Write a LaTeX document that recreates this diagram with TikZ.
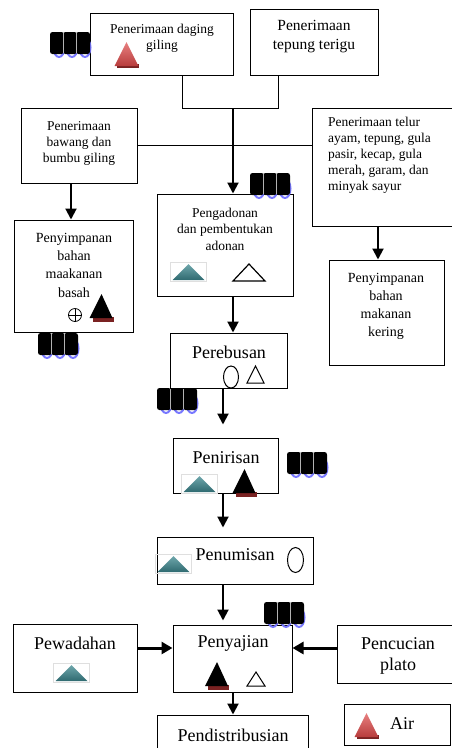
\documentclass[tikz,border=0pt]{standalone}
\usepackage{fontspec}
\setmainfont{Liberation Serif}
\usetikzlibrary{arrows.meta}
\definecolor{tealA}{HTML}{6FA7AC}
\definecolor{tealB}{HTML}{2F6A70}
\definecolor{redA}{HTML}{E88080}
\definecolor{redB}{HTML}{B83C3C}
\definecolor{darkred}{HTML}{7A2222}
\definecolor{ccpblue}{HTML}{7878FF}
\tikzset{
  box/.style={draw, line width=1pt, inner sep=0pt},
  small/.style={font=\fontsize{13.5}{16}\selectfont, align=center, inner sep=0pt},
  mid/.style={font=\fontsize{15.5}{19}\selectfont, align=center, inner sep=0pt},
  big/.style={font=\fontsize{18}{21}\selectfont, align=center, inner sep=0pt},
  link/.style={line width=1pt},
  arr/.style={line width=2pt, -{Triangle[width=11pt,length=11pt]}},
  harr/.style={line width=3pt, -{Triangle[width=12pt,length=11pt]}},
  tealtri/.pic={
    \draw[gray!25, line width=0.6pt] (-18,1) rectangle (18,-18);
    \shade[top color=tealA, bottom color=tealB] (-16,0) -- (16,0) -- (0,-16) -- cycle;
  },
  redtri/.pic={
    \fill[darkred] (-10,1.5) -- (12,1.5) -- (12,-2) -- (-10,-2) -- cycle;
    \shade[top color=redA, bottom color=redB] (-12,0) -- (12,0) -- (0,-24) -- cycle;
  },
  blacktri/.pic={
    \fill[darkred] (-9,3.5) rectangle (12,-1);
    \fill[black] (-12,0) -- (11,0) -- (0,-24) -- cycle;
  },
  ccp/.pic={
    \foreach \i in {0,1,2} {\draw[ccpblue, line width=2pt] (\i*13+9,15.5) ellipse (5.5 and 9.5);}
    \foreach \i in {0,1,2} {\fill[black, rounded corners=2.5pt] (\i*13,0) rectangle ++(14,22);}
    \draw[gray!60, line width=0.4pt] (13.5,1) -- (13.5,21) (26.5,1) -- (26.5,21);
  }
}
\begin{document}
\begin{tikzpicture}[x=1pt,y=-1pt]
\useasboundingbox (0,0) rectangle (451,748);

% boxes
\node[box, minimum width=143, minimum height=62] (daging) at (161.5,44) {};
\node[box, minimum width=128, minimum height=66] (tepung) at (314,42) {};
\node[box, minimum width=116, minimum height=75] (bawang) at (79,145.5) {};
\node[box, minimum width=148, minimum height=118] (telur) at (386,167) {};
\node[box, minimum width=119, minimum height=112] (basah) at (73.5,276) {};
\node[box, minimum width=136, minimum height=102] (adonan) at (225,245) {};
\node[box, minimum width=115, minimum height=105] (kering) at (386.5,312.5) {};
\node[box, minimum width=117, minimum height=55] (rebus) at (228.5,360.5) {};
\node[box, minimum width=105, minimum height=55] (tiris) at (225.5,465.5) {};
\node[box, minimum width=156, minimum height=47] (tumis) at (235,560.5) {};
\node[box, minimum width=124, minimum height=68] (wadah) at (75,658) {};
\node[box, minimum width=119, minimum height=67] (saji) at (232.5,658.5) {};
\node[box, minimum width=123, minimum height=58] (cuci) at (398.5,654) {};
\node[box, minimum width=151, minimum height=45] (distri) at (232.5,737.5) {};
\node[box, minimum width=106, minimum height=41] (legend) at (397,724.5) {};

% texts
\node[small] (t1) at (162,38) {Penerimaan daging\\giling};
\node[mid] (t2) at (314,37) {Penerimaan\\tepung terigu};
\node[small] (t3) at (79,143) {Penerimaan\\bawang dan\\bumbu giling};
\node[small, align=left, anchor=north west] (t4) at (328,117) {Penerimaan telur\\ayam, tepung, gula\\pasir, kecap, gula\\merah, garam, dan\\minyak sayur};
\node[small, font=\fontsize{14}{18.3}\selectfont] (t5) at (74,265) {Penyimpanan\\bahan\\maakanan\\basah};
\node[small, font=\fontsize{13.5}{16.5}\selectfont] (t6) at (225,229) {Pengadonan\\dan pembentukan\\adonan};
\node[small, font=\fontsize{14}{18}\selectfont] (t7) at (386,306) {Penyimpanan\\bahan\\makanan\\kering};
\node[big] (t8) at (229,352) {Perebusan};
\node[big] (t9) at (226,458) {Penirisan};
\node[big] (t10) at (235,555) {Penumisan};
\node[big] (t11) at (75,643) {Pewadahan};
\node[big] (t12) at (233,643) {Penyajian};
\node[big] (t13) at (398,656) {Pencucian\\plato};
\node[big] (t14) at (233,735) {Pendistribusian};
\node[big] (t15) at (402,724) {Air};

% connectors
\coordinate (j1) at (182,108);
\coordinate (j2) at (278,108);
\coordinate (jm) at (233,108);
\draw[link] (daging.south -| j1) -- (j1) -- (j2) -- (tepung.south -| j2);
\draw[link] (bawang.east |- 0,145) -- (telur.west |- 0,145);
\draw[arr] (jm) -- (adonan.north -| jm);
\coordinate (xb) at (71,0);
\draw[arr] (bawang.south -| xb) -- (basah.north -| xb);
\coordinate (xt) at (378,0);
\draw[arr] (telur.south -| xt) -- (kering.north -| xt);
\coordinate (xa) at (233,0);
\draw[arr] (adonan.south -| xa) -- (rebus.north -| xa);
\coordinate (xr) at (223,0);
\draw[arr, shorten >=13pt] (rebus.south -| xr) -- (tiris.north -| xr);
\draw[arr, shorten >=9pt] (tiris.south -| xr) -- (tumis.north -| xr);
\draw[arr, shorten >=4pt] (tumis.south -| xr) -- (saji.north -| xr);
\coordinate (ys) at (0,648);
\draw[harr] (wadah.east |- ys) -- (saji.west |- ys);
\draw[harr] (cuci.west |- ys) -- (saji.east |- ys);
\draw[arr] (saji.south -| xa) -- (distri.north -| xa);

% icons
\pic at (126.5,66) {redtri};
\pic at (366.5,737) {redtri};
\pic at (188.5,280) {tealtri};
\draw[line width=1.2pt] (233,281) -- (265,281) -- (249,264) -- cycle;
\draw[line width=0.8pt] (75,315) circle (6.5);
\draw[line width=0.8pt] (68.5,315) -- (81.5,315) (75,308.5) -- (75,321.5);
\pic at (101.5,318) {blacktri};
\draw[line width=1pt] (231,377) ellipse (7.5 and 11);
\draw[line width=1pt] (247,383) -- (264,383) -- (255.5,366) -- cycle;
\pic at (199.5,492) {tealtri};
\pic at (244.5,493) {blacktri};
\pic at (173.5,572) {tealtri};
\draw[line width=1pt] (295.5,560) ellipse (8 and 12.5);
\pic at (71.5,681) {tealtri};
\pic at (217,686) {blacktri};
\draw[line width=1pt] (247,686) -- (265,686) -- (256,672) -- cycle;

% CCP marks
\pic at (50,32) {ccp};
\pic at (250,173) {ccp};
\pic at (38,333) {ccp};
\pic at (157,388) {ccp};
\pic at (287,452) {ccp};
\pic at (264,602) {ccp};
\end{tikzpicture}
\end{document}
